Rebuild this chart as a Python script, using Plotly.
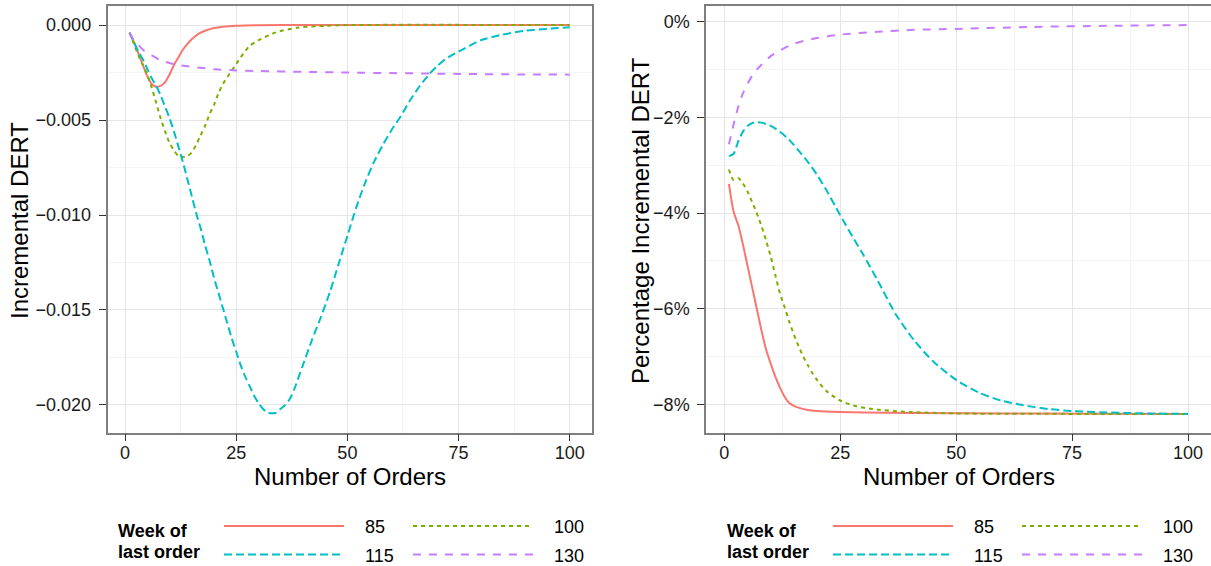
import plotly.graph_objects as go

W, H = 1211, 566

# ---------------- data ----------------
SERIES = ["85", "100", "115", "130"]
COLORS = ["#F8766D", "#7CAE00", "#00BFC4", "#C77CFF"]
DASHES = ["solid", "4px,4px", "8px,4px", "8px,8px"]

# Left panel: Incremental DERT
L85_X = [1, 2, 3, 4, 5, 6, 7, 8, 9, 10, 11, 12, 13, 14, 15, 16, 17, 18, 20, 22, 25, 30, 40, 60, 100]
L85_Y = [-0.0004, -0.0009, -0.0015, -0.0021, -0.0027, -0.0031, -0.00325, -0.0032, -0.0030, -0.0026,
         -0.0021, -0.0017, -0.0013, -0.0010, -0.00075, -0.00055, -0.0004, -0.0003, -0.00016, -0.00009,
         -0.00004, -0.00001, 0.0, 0.0, 0.0]

L100_X = [1, 2, 3, 4, 5, 6, 7, 8, 9, 10, 11, 12, 13, 14, 15, 16, 17, 18, 19, 20, 21, 22, 24, 26, 28,
          30, 34, 39, 45, 50, 100]
L100_Y = [-0.0004, -0.0010, -0.0016, -0.0021, -0.0026, -0.0033, -0.0041, -0.0049, -0.0056, -0.0062,
          -0.0066, -0.0069, -0.00695, -0.0069, -0.0067, -0.0063, -0.0058, -0.0053, -0.0047, -0.0042,
          -0.0036, -0.0031, -0.0024, -0.0017, -0.0011, -0.0008, -0.00038, -0.00013, -0.00004, 0.0, 0.0]

L115_X = [1, 2, 3, 4, 5, 6, 7, 8, 9, 10, 11, 12, 13, 14, 15, 16, 17, 18, 19, 20, 21, 22, 23, 24, 25,
          26, 27, 28, 29, 30, 31, 32, 33, 34, 35, 36, 37, 38, 40, 42, 44, 46, 48, 50, 52, 54, 56, 58,
          60, 62, 64, 66, 68, 70, 72, 75, 80, 85, 90, 95, 100]
L115_Y = [-0.0004, -0.0009, -0.0014, -0.0018, -0.0023, -0.0028, -0.0032, -0.0037, -0.0043, -0.0049,
          -0.0056, -0.0064, -0.0072, -0.0081, -0.0090, -0.0099, -0.0107, -0.0116, -0.0124, -0.0133,
          -0.0141, -0.0149, -0.0157, -0.0165, -0.0172, -0.0179, -0.0185, -0.0190, -0.0195, -0.0199,
          -0.0202, -0.0204, -0.02044, -0.0204, -0.0202, -0.0200, -0.0197, -0.0192, -0.0179, -0.0166,
          -0.0154, -0.0141, -0.0126, -0.0111, -0.0096, -0.0083, -0.0072, -0.0063, -0.0055, -0.0048,
          -0.0040, -0.0033, -0.0027, -0.0022, -0.0018, -0.0014, -0.0008, -0.0005, -0.0003, -0.0002,
          -0.00012]

L130_X = [1, 2, 3, 4, 5, 6, 8, 10, 12, 15, 20, 25, 30, 40, 50, 60, 75, 90, 100]
L130_Y = [-0.0004, -0.0008, -0.00105, -0.0013, -0.00147, -0.0016, -0.00185, -0.0020, -0.0021, -0.0022,
          -0.00232, -0.00239, -0.00242, -0.00246, -0.0025, -0.00253, -0.00257, -0.0026, -0.00261]

# Right panel: Percentage Incremental DERT (in %)
R85_X = [1, 2, 3, 4, 5, 6, 7, 8, 9, 10, 11, 12, 13, 14, 16, 18, 20, 25, 30, 40, 60, 100]
R85_Y = [-3.39, -3.97, -4.25, -4.65, -5.10, -5.55, -6.00, -6.45, -6.85, -7.15, -7.42, -7.65, -7.84,
         -7.97, -8.07, -8.12, -8.14, -8.16, -8.17, -8.18, -8.19, -8.20]

R100_X = [1, 2, 3, 4, 5, 6, 7, 8, 9, 10, 11, 12, 13, 14, 15, 16, 17, 18, 19, 20, 22, 25, 28, 32, 40,
          50, 100]
R100_Y = [-3.09, -3.31, -3.27, -3.38, -3.55, -3.77, -4.00, -4.27, -4.57, -4.91, -5.30, -5.68, -5.97,
          -6.27, -6.54, -6.78, -7.00, -7.18, -7.35, -7.49, -7.72, -7.92, -8.03, -8.10, -8.16, -8.19, -8.20]

R115_X = [1, 2, 3, 4, 5, 6, 7, 8, 9, 10, 12, 14, 16, 18, 20, 22, 24, 26, 28, 30, 33, 37, 41, 45, 50,
          55, 60, 64, 70, 75, 86, 100]
R115_Y = [-2.81, -2.76, -2.50, -2.30, -2.18, -2.12, -2.10, -2.11, -2.14, -2.18, -2.30, -2.47, -2.69,
          -2.93, -3.20, -3.52, -3.87, -4.22, -4.55, -4.88, -5.40, -6.12, -6.67, -7.10, -7.49, -7.76,
          -7.93, -8.01, -8.10, -8.14, -8.18, -8.20]

R130_X = [1, 2, 3, 4, 5, 6, 7, 8, 10, 12, 15, 20, 25, 33, 41, 50, 66, 83, 100]
R130_Y = [-2.56, -2.15, -1.78, -1.50, -1.30, -1.13, -1.00, -0.90, -0.72, -0.60, -0.46, -0.34, -0.27,
          -0.21, -0.17, -0.15, -0.11, -0.085, -0.07]

X_TICKS = [0, 25, 50, 75, 100]
L_Y_TICKS = [0.0, -0.005, -0.010, -0.015, -0.020]
R_Y_TICKS = [0, -2, -4, -6, -8]
R_Y_TICKTEXT = [f"{v}%".replace("-", "\u2212") for v in R_Y_TICKS]

LEFT_SERIES = [(L85_X, L85_Y), (L100_X, L100_Y), (L115_X, L115_Y), (L130_X, L130_Y)]
RIGHT_SERIES = [(R85_X, R85_Y), (R100_X, R100_Y), (R115_X, R115_Y), (R130_X, R130_Y)]

# ---------------- figure ----------------
FONT = "Liberation Sans, Arial, Helvetica, sans-serif"


def px_x(p):
    return p / W


def px_y(p):
    return 1 - p / H


fig = go.Figure()

for i, (xs, ys) in enumerate(LEFT_SERIES):
    fig.add_trace(go.Scatter(x=xs, y=ys, mode="lines", name=SERIES[i], showlegend=False,
                             line=dict(color=COLORS[i], width=2, dash=DASHES[i],
                                       shape="spline", smoothing=0.7),
                             xaxis="x", yaxis="y"))
for i, (xs, ys) in enumerate(RIGHT_SERIES):
    fig.add_trace(go.Scatter(x=xs, y=ys, mode="lines", name=SERIES[i], showlegend=False,
                             line=dict(color=COLORS[i], width=2, dash=DASHES[i],
                                       shape="spline", smoothing=0.7),
                             xaxis="x2", yaxis="y2"))

common = dict(
    showline=True, mirror=True, linecolor="#7F7F7F", linewidth=1.5,
    showgrid=True, gridcolor="#E5E5E5", gridwidth=1,
    zeroline=False, ticks="outside", ticklen=7, tickwidth=1.2, tickcolor="#333333",
    tickfont=dict(family=FONT, size=18, color="#1A1A1A"),
    automargin=False, fixedrange=True,
)

y_top, y_bot = 5.5, 432.7
ydom = [px_y(y_bot), px_y(y_top)]

fig.update_layout(
    width=W, height=H,
    margin=dict(l=0, r=0, t=0, b=0),
    paper_bgcolor="white", plot_bgcolor="white",
    template="none",
    font=dict(family=FONT, color="#000000"),
    showlegend=False,
    xaxis=dict(domain=[px_x(107.5), px_x(591.7)], range=[-3.95, 104.95],
               tickmode="array", tickvals=X_TICKS, ticklabelstandoff=-4,
               minor=dict(dtick=12.5, tick0=0, showgrid=True, gridcolor="#F4F4F4", ticks=""),
               anchor="y", **common),
    yaxis=dict(domain=ydom, range=[-0.02146, 0.00103],
               tickmode="array", tickvals=L_Y_TICKS, tickformat=".3f", ticklabelstandoff=4,
               minor=dict(dtick=0.0025, tick0=0, showgrid=True, gridcolor="#F4F4F4", ticks=""),
               anchor="x", **common),
    xaxis2=dict(domain=[px_x(706.0), 1.0], range=[-3.95, 104.95],
                tickmode="array", tickvals=X_TICKS, ticklabelstandoff=-4,
                minor=dict(dtick=12.5, tick0=0, showgrid=True, gridcolor="#F4F4F4", ticks=""),
                anchor="y2", **common),
    yaxis2=dict(domain=ydom, range=[-8.593, 0.339],
                tickmode="array", tickvals=R_Y_TICKS, ticktext=R_Y_TICKTEXT,
                ticklabelstandoff=4,
                minor=dict(dtick=1, tick0=0, showgrid=True, gridcolor="#F4F4F4", ticks=""),
                anchor="x2", **common),
)

ann = []
TITLE_SIZE = 24
# axis titles
ann.append(dict(text="Number of Orders", x=px_x(349.6), y=px_y(476), xref="paper", yref="paper",
                xanchor="center", yanchor="middle", showarrow=False,
                font=dict(family=FONT, size=TITLE_SIZE, color="#000000")))
ann.append(dict(text="Number of Orders", x=px_x(958.5), y=px_y(476), xref="paper", yref="paper",
                xanchor="center", yanchor="middle", showarrow=False,
                font=dict(family=FONT, size=TITLE_SIZE, color="#000000")))
ann.append(dict(text="Incremental DERT", x=px_x(19.0), y=px_y(221), xref="paper", yref="paper",
                xanchor="center", yanchor="middle", showarrow=False, textangle=-90,
                font=dict(family=FONT, size=TITLE_SIZE, color="#000000")))
ann.append(dict(text="Percentage Incremental DERT", x=px_x(640.0), y=px_y(221), xref="paper",
                yref="paper", xanchor="center", yanchor="middle", showarrow=False, textangle=-90,
                font=dict(family=FONT, size=TITLE_SIZE, color="#000000")))

shapes = []
ROW_Y = [526, 554.5]
for origin in (116, 725):
    ann.append(dict(text="<b>Week of</b>", x=px_x(origin), y=px_y(531), xref="paper", yref="paper",
                    xanchor="left", yanchor="middle", showarrow=False,
                    font=dict(family=FONT, size=18, color="#000000")))
    ann.append(dict(text="<b>last order</b>", x=px_x(origin), y=px_y(552), xref="paper",
                    yref="paper", xanchor="left", yanchor="middle", showarrow=False,
                    font=dict(family=FONT, size=18, color="#000000")))
    for i, s in enumerate(SERIES):
        row, col = i // 2, i % 2
        x0 = origin + 108 + col * 189
        x1 = x0 + 120
        yy = ROW_Y[row]
        shapes.append(dict(type="line", xref="paper", yref="paper",
                           x0=px_x(x0), x1=px_x(x1), y0=px_y(yy), y1=px_y(yy),
                           line=dict(color=COLORS[i], width=2, dash=DASHES[i])))
        ann.append(dict(text=s, x=px_x(x0 + 139), y=px_y(yy + 1), xref="paper", yref="paper",
                        xanchor="left", yanchor="middle", showarrow=False,
                        font=dict(family=FONT, size=18, color="#000000")))

fig.update_layout(annotations=ann, shapes=shapes)

fig.write_html("out.html",
               config={"displayModeBar": False},
               post_script="document.body.style.margin='0';document.body.style.overflow='hidden';")
